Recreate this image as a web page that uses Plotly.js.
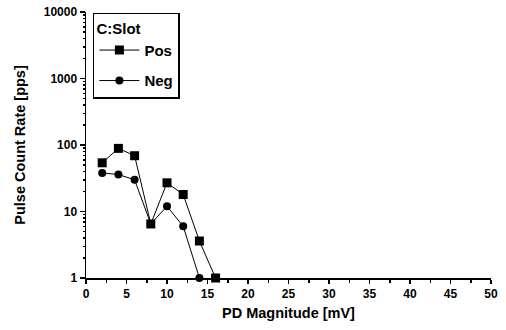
<!DOCTYPE html>
<html>
<head>
<meta charset="utf-8">
<script src="https://cdn.plot.ly/plotly-3.0.1.min.js"></script>
<style>html,body{margin:0;padding:0;background:#fff;}#chart{width:506px;height:330px;}</style>
</head>
<body>
<div id="chart"></div>
<script>
const magnitude = [2, 4, 6, 8, 10, 12, 14, 16];
const posRate = [54, 89, 69, 6.5, 27, 18, 3.6, 1];
const negMagnitude = [2, 4, 6, 8, 10, 12, 14];
const negRate = [38, 36, 30, 6.5, 12, 6, 1];
const seriesNames = ["Pos", "Neg"];
const legendTitle = "C:Slot";
const xTitle = "PD Magnitude [mV]";
const yTitle = "Pulse Count Rate [pps]";
const yTickVals = [1, 10, 100, 1000, 10000];
const yTickText = ["1", "10", "100", "1000", "10000"];

const fontFam = "Liberation Sans, Arial, sans-serif";
const traces = [
  {x: magnitude, y: posRate, name: seriesNames[0], type: "scatter", mode: "lines+markers", legendgroup: "a",
   line: {color: "#000", width: 1}, marker: {symbol: "square", size: 9, color: "#000"}, cliponaxis: false},
  {x: negMagnitude, y: negRate, name: seriesNames[1], type: "scatter", mode: "lines+markers", legendgroup: "b",
   line: {color: "#000", width: 1}, marker: {symbol: "circle", size: 8, color: "#000"}, cliponaxis: false}
];
const layout = {
  width: 506, height: 330,
  margin: {l: 86, r: 15, t: 12, b: 52},
  paper_bgcolor: "#fff", plot_bgcolor: "#fff",
  font: {family: fontFam, color: "#000", size: 12},
  showlegend: true,
  legend: {
    x: 0.017, y: 0.997, xanchor: "left", yanchor: "top",
    bordercolor: "#000", borderwidth: 1.5, bgcolor: "#fff",
    title: {text: "<b>" + legendTitle + "</b>", font: {size: 15, family: fontFam}},
    font: {size: 15, family: fontFam, weight: "bold"},
    itemwidth: 40, tracegroupgap: 8
  },
  xaxis: {
    range: [0, 50], tickvals: [0,5,10,15,20,25,30,35,40,45,50],
    showgrid: false, zeroline: false, showline: true, linecolor: "#000", linewidth: 1.5,
    ticks: "outside", ticklen: 4, tickwidth: 1.5, tickcolor: "#000",
    minor: {dtick: 2.5, ticks: "outside", ticklen: 3, tickcolor: "#000", showgrid: false},
    tickfont: {size: 12, family: fontFam, weight: "bold"},
    title: {text: xTitle, font: {size: 14.5, family: fontFam, weight: "bold"}, standoff: 8}
  },
  yaxis: {
    type: "log", range: [0, 4], tickvals: yTickVals, ticktext: yTickText,
    showgrid: false, zeroline: false, showline: true, linecolor: "#000", linewidth: 1.5,
    ticks: "outside", ticklen: 5, tickwidth: 1.5, tickcolor: "#000",
    minor: {dtick: "D1", ticks: "outside", ticklen: 2, tickcolor: "#000", showgrid: false},
    tickfont: {size: 12, family: fontFam, weight: "bold"},
    title: {text: yTitle, font: {size: 14.5, family: fontFam, weight: "bold"}, standoff: 14}
  }
};
Plotly.newPlot("chart", traces, layout, {staticPlot: true, displayModeBar: false});
</script>
</body>
</html>
